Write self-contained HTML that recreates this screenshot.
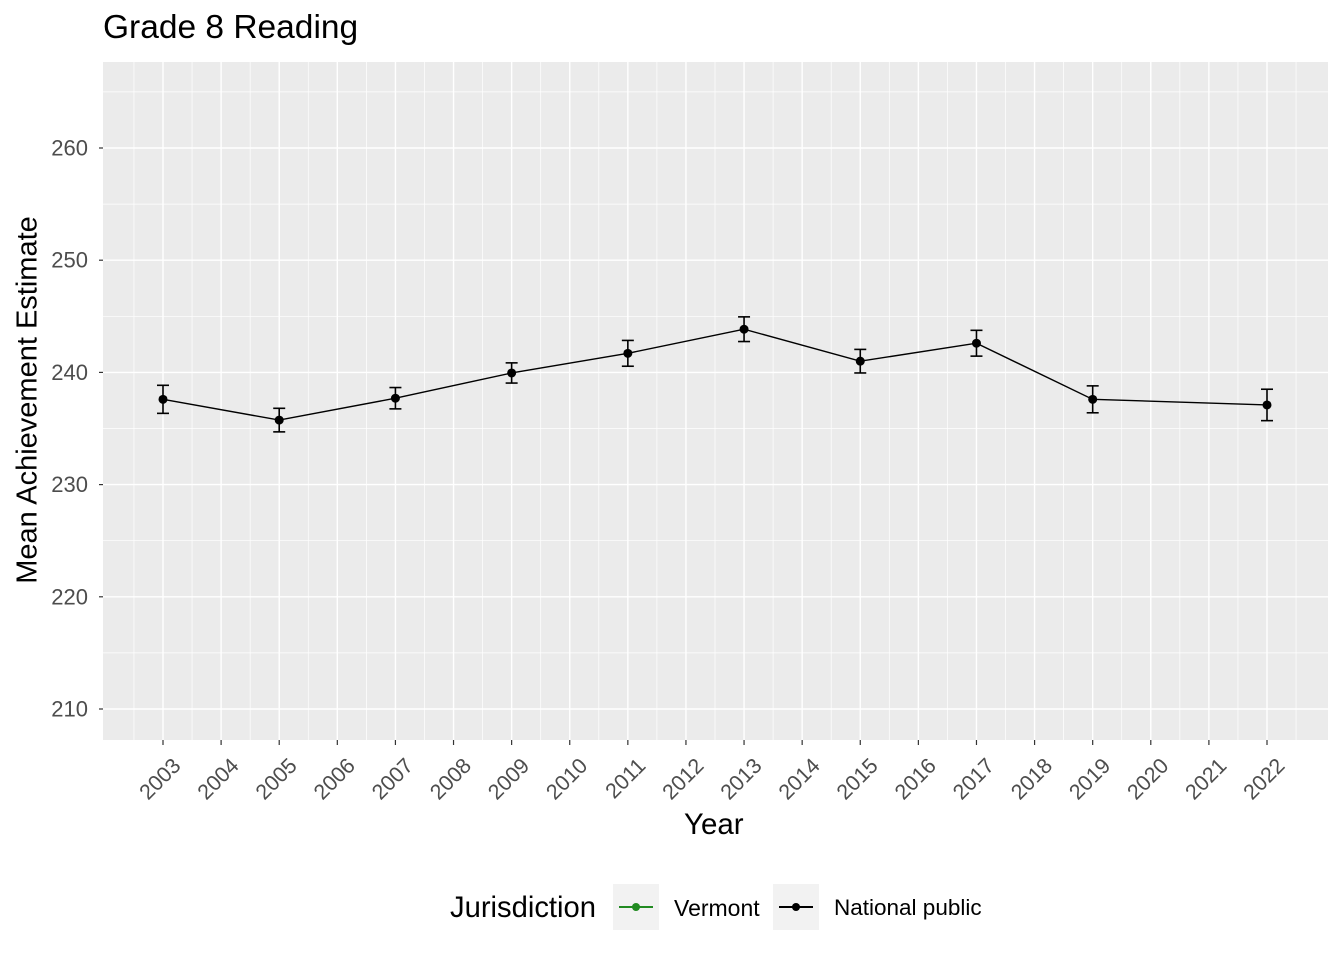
<!DOCTYPE html>
<html><head><meta charset="utf-8"><style>
body{margin:0;background:#fff;}
svg{display:block;font-family:"Liberation Sans",Arial,sans-serif;}
</style></head><body>
<svg id="chart" width="1344" height="960"></svg>
<script>
const years=[2003,2005,2007,2009,2011,2013,2015,2017,2019,2022];
const means=[237.6,235.75,237.7,239.95,241.7,243.85,241.0,242.6,237.6,237.1];
const errs=[1.25,1.05,0.95,0.9,1.15,1.1,1.05,1.15,1.2,1.4];
const yTicks=[210,220,230,240,250,260];
const xTicks=[2003,2004,2005,2006,2007,2008,2009,2010,2011,2012,2013,2014,2015,2016,2017,2018,2019,2020,2021,2022];
const NS='http://www.w3.org/2000/svg';
const svg=document.getElementById('chart');
const X=v=>163+(v-2003)*(1104/19);
const Y=v=>148+(260-v)*11.22;
const L=103,R=1328,T=62,B=740;
function mk(tag,attrs,parent){const e=document.createElementNS(NS,tag);for(const k in attrs)e.setAttribute(k,attrs[k]);(parent||svg).appendChild(e);return e;}
let e=mk('rect',{x:L,y:T,width:R-L,height:B-T,fill:'#ebebeb'});


for(let v=205;v<=265;v+=10){const y=Y(v);if(y<T||y>B)continue;mk('line',{x1:L,x2:R,y1:y,y2:y,stroke:'#fff','stroke-width':0.7});}
for(let i=0;i<=xTicks.length;i++){const x=X(2002.5+i);if(x<L||x>R)continue;mk('line',{x1:x,x2:x,y1:T,y2:B,stroke:'#fff','stroke-width':0.7});}
yTicks.forEach(v=>{const y=Y(v);mk('line',{x1:L,x2:R,y1:y,y2:y,stroke:'#fff','stroke-width':1.4});
mk('line',{x1:L-4,x2:L,y1:y,y2:y,stroke:'#333','stroke-width':1.2});
const t=mk('text',{x:L-15,y:y+7.5,'text-anchor':'end','font-size':22,fill:'#4d4d4d'});t.textContent=v;

});
xTicks.forEach(v=>{const x=X(v);mk('line',{x1:x,x2:x,y1:T,y2:B,stroke:'#fff','stroke-width':1.4});
mk('line',{x1:x,x2:x,y1:B,y2:B+5,stroke:'#333','stroke-width':1.2});
const ax=x+19,ay=B+27;
const t=mk('text',{x:ax,y:ay,'text-anchor':'end','font-size':21.5,fill:'#4d4d4d',transform:`rotate(-45 ${ax} ${ay})`});t.textContent=v;

});
const pl=mk('polyline',{points:years.map((y,i)=>X(y)+','+Y(means[i])).join(' '),fill:'none',stroke:'#000','stroke-width':1.4});


years.forEach((yr,i)=>{const x=X(yr),y1=Y(means[i]+errs[i]),y2=Y(means[i]-errs[i]);
const g=mk('g',{stroke:'#000','stroke-width':1.6});


mk('line',{x1:x,x2:x,y1:y1,y2:y2},g);mk('line',{x1:x-6,x2:x+6,y1:y1,y2:y1},g);mk('line',{x1:x-6,x2:x+6,y1:y2,y2:y2},g);
const c=mk('circle',{cx:x,cy:Y(means[i]),r:4.5,fill:'#000'});

});
</script>
<div style="position:absolute;left:0;top:0;width:1344px;height:960px;pointer-events:none;font-family:'Liberation Sans',Arial,sans-serif;">
<div style="position:absolute;left:103px;top:9px;font-size:33.5px;color:#000;">Grade 8 Reading</div>
<div style="position:absolute;left:684px;top:808px;font-size:29.5px;">Year</div>
<div style="position:absolute;left:28px;top:400px;font-size:29px;white-space:nowrap;transform:translate(-50%,-50%) rotate(-90deg);">Mean Achievement Estimate</div>
<div style="position:absolute;left:450px;top:892px;font-size:29.2px;">Jurisdiction</div>
<div style="position:absolute;left:613px;top:884px;width:46px;height:46px;background:#f2f2f2;"><div style="position:absolute;left:6px;top:22px;width:34px;height:1.5px;background:#228b22"></div><div style="position:absolute;left:19px;top:19px;width:8px;height:8px;border-radius:50%;background:#228b22"></div></div>
<div style="position:absolute;left:674px;top:895px;font-size:23px;">Vermont</div>
<div style="position:absolute;left:773px;top:884px;width:46px;height:46px;background:#f2f2f2;"><div style="position:absolute;left:6px;top:22px;width:34px;height:1.5px;background:#000"></div><div style="position:absolute;left:19px;top:19px;width:8px;height:8px;border-radius:50%;background:#000"></div></div>
<div style="position:absolute;left:834px;top:895px;font-size:22.5px;">National public</div>
</div>
</body></html>
